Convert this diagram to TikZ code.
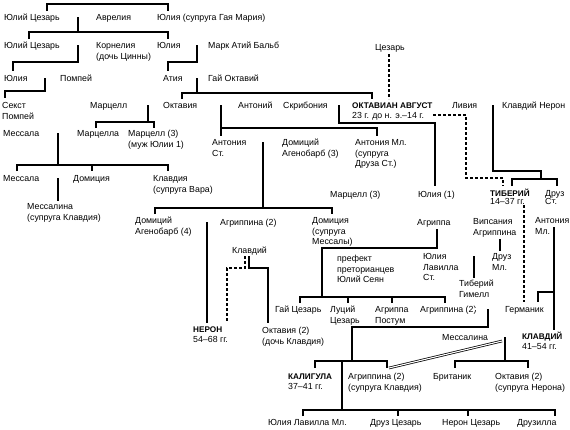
\documentclass[tikz,border=0pt]{standalone}
\usepackage{fontspec}
\setmainfont{Liberation Sans}
\newcommand\fsn{\fontsize{8.8}{10.8}\selectfont}
\newcommand\fst{\fontsize{8.8}{8.2}\selectfont}
\newcommand\fsb{\fontsize{8.8}{10.2}\selectfont}
\newcommand\bn{\fontsize{8.2}{10}\selectfont\bfseries}
\newcommand\lns[1]{\vtop{\halign{##\hfil\cr #1\crcr}}}
\tikzset{
  lbl/.style={anchor=base west, inner sep=0pt, font=\fsn, yshift=-3.2pt},
  bl/.style={lbl, font=\fsb},
  tl/.style={lbl, font=\fst},
  ln/.style={line width=1.1pt},
  dl/.style={line width=1.1pt, dash pattern=on 3pt off 2pt},
  mar/.style={double, double distance=1.1pt, line width=0.75pt},
}
\begin{document}
\begin{tikzpicture}[x=1pt,y=-1pt]
\useasboundingbox (0,0) rectangle (570,429);
% ---------- labels ----------
\node[lbl] (jc1) at (4,17) {Юлий Цезарь};
\node[lbl] (avr) at (96,17) {Аврелия};
\node[lbl] (jul1) at (157,17) {Юлия (супруга Гая Мария)};
\node[lbl] (jc2) at (4,45) {Юлий Цезарь};
\node[lbl] (korn) at (96,45) {\lns{Корнелия\cr (дочь Цинны)}};
\node[lbl] (jul2) at (157,45) {Юлия};
\node[lbl] (mab) at (208,45) {Марк Атий Бальб};
\node[lbl] (jul3) at (4,78) {Юлия};
\node[lbl] (pomp) at (60,78) {Помпей};
\node[lbl] (atia) at (163,78) {Атия};
\node[lbl] (gaioct) at (208,78) {Гай Октавий};
\node[lbl] (caesar) at (375,47) {Цезарь};
\node[lbl] (sext) at (2,105) {\lns{Секст\cr Помпей}};
\node[lbl] (marc1) at (90,105) {Марцелл};
\node[lbl] (oct) at (163,105) {Октавия};
\node[lbl] (ant) at (238,105) {Антоний};
\node[lbl] (scrib) at (283,105) {Скрибония};
\node[bl] (aug) at (352,105) {\lns{\bn ОКТАВИАН АВГУСТ\cr 23 г. до н. э.–14 г.}};
\node[lbl] (livia) at (452,105) {Ливия};
\node[lbl] (klner) at (502,105) {Клавдий Нерон};
\node[lbl] (mess1) at (3,133) {Мессала};
\node[lbl] (marcella) at (77,133) {Марцелла};
\node[lbl] (marc3a) at (128,133) {\lns{Марцелл (3)\cr (муж Юлии 1)}};
\node[lbl] (antst) at (212,142) {\lns{Антония\cr Ст.}};
\node[lbl] (dom3) at (282,142) {\lns{Домиций\cr Агенобарб (3)}};
\node[lbl] (antml) at (355,142) {\lns{Антония Мл.\cr (супруга\cr Друза Ст.)}};
\node[lbl] (mess2) at (3,178) {Мессала};
\node[lbl] (domic) at (73,178) {Домиция};
\node[lbl] (klavdia) at (153,178) {\lns{Клавдия\cr (супруга Вара)}};
\node[lbl] (messal1) at (27,206) {\lns{Мессалина\cr (супруга Клавдия)}};
\node[lbl] (marc3b) at (330,194) {Марцелл (3)};
\node[lbl] (jul4) at (418,194) {Юлия (1)};
\node[tl] (tib) at (490,193) {\lns{\bn ТИБЕРИЙ\cr 14–37 гг.}};
\node[tl] (druzst) at (545,193) {\lns{Друз\cr Ст.}};
\node[lbl] (agrippa) at (417,222) {Агриппа};
\node[lbl] (vips) at (473,221) {\lns{Випсания\cr Агриппина}};
\node[lbl] (antml2) at (535,220) {\lns{Антония\cr Мл.}};
\node[lbl] (dom4) at (135,220) {\lns{Домиций\cr Агенобарб (4)}};
\node[lbl] (agr2a) at (220,222) {Агриппина (2)};
\node[lbl] (domic2) at (312,220) {\lns{Домиция\cr (супруга\cr Мессалы)}};
\node[lbl] (klav1) at (232,250) {Клавдий};
\node[lbl] (sejan) at (337,258) {\lns{префект\cr преторианцев\cr Юлий Сеян}};
\node[lbl] (jlav) at (423,256) {\lns{Юлия\cr Лавилла\cr Ст.}};
\node[lbl] (druzml) at (492,256) {\lns{Друз\cr Мл.}};
\node[lbl] (gemell) at (459,283) {\lns{Тиберий\cr Гимелл}};
\node[lbl] (gai) at (275,309) {Гай Цезарь};
\node[lbl] (luc) at (330,309) {\lns{Луций\cr Цезарь}};
\node[lbl] (agrpost) at (375,309) {\lns{Агриппа\cr Постум}};
\node[lbl] (agr2b) at (420,309) {Агриппина (2)};
\node[lbl] (germ) at (505,309) {Германик};
\node[bl] (nero) at (193,329) {\lns{\bn НЕРОН\cr 54–68 гг.}};
\node[lbl] (oct2a) at (262,330) {\lns{Октавия (2)\cr (дочь Клавдия)}};
\node[lbl] (messal2) at (442,337) {Мессалина};
\node[bl] (claud) at (522,336) {\lns{\bn КЛАВДИЙ\cr 41–54 гг.}};
\node[bl] (calig) at (288,376) {\lns{\bn КАЛИГУЛА\cr 37–41 гг.}};
\node[lbl] (agr2c) at (348,376) {\lns{Агриппина (2)\cr (супруга Клавдия)}};
\node[lbl] (brit) at (433,376) {Британик};
\node[lbl] (oct2b) at (495,376) {\lns{Октавия (2)\cr (супруга Нерона)}};
\node[lbl] (jlavml) at (268,422) {Юлия Лавилла Мл.};
\node[lbl] (druzc) at (370,422) {Друз Цезарь};
\node[lbl] (neronc) at (442,422) {Нерон Цезарь};
\node[lbl] (druzilla) at (517,422) {Друзилла};
% ---------- marriages ----------
\draw[mar] (63,17) -- (95,17);
\draw[mar] (63,45) -- (95,45);
\draw[mar] (180,45) -- (207,45);
\draw[mar] (27,78) -- (58,78);
\draw[mar] (182,78) -- (207,78);
\draw[mar] (133,105) -- (162,105);
\draw[mar] (205,105) -- (235,105);
\draw[mar] (330,105) -- (348,105);
\draw[mar] (435,105) -- (451,105);
\draw[mar] (484,105) -- (501,105);
\draw[mar] (43,133) -- (73,133);
\draw[mar] (247,142) -- (275,142);
\draw[mar] (43,178) -- (72,178);
\draw[mar] (380,194) -- (405,194);
\draw[mar] (458,194) -- (489,194);
\draw[mar] (437,201) -- (437,212);
\draw[mar] (502,204) -- (502,215);
\draw[mar] (553,203) -- (553,214);
\draw[mar] (190,222) -- (219,222);
\draw[mar] (247,229) -- (247,243);
\draw[mar] (388,257) -- (418,257);
\draw[mar] (458,256) -- (490,256);
\draw[mar] (475,309) -- (503,309);
\draw[mar] (232,330) -- (260,330);
\draw[mar] (487,337) -- (519,337);
\draw[mar] (389,368) -- (502,341);
% ---------- descent lines ----------
\draw[ln] (47,11) -- (47,4) -- (168,4) -- (168,11);
\draw[ln] (78,17) -- (78,32);
\draw[ln] (29,39) -- (29,32) -- (168,32) -- (168,39);
\draw[ln] (78,45) -- (78,62) -- (13,62) -- (13,71);
\draw[ln] (197,45) -- (197,62) -- (168,62) -- (168,71);
\draw[ln] (45,78) -- (45,91) -- (5,91) -- (5,98);
\draw[ln] (197,78) -- (197,93);
\draw[ln] (182,99) -- (182,93) -- (372,93) -- (372,99);
\draw[dl] (389,54) -- (389,99);
\draw[ln] (148,105) -- (148,122);
\draw[ln] (96,128) -- (96,122) -- (154,122) -- (154,128);
\draw[ln] (221,105) -- (221,136);
\draw[ln] (221,128) -- (377,128) -- (377,136);
\draw[ln] (339,105) -- (339,123) -- (435,123) -- (435,186);
\draw[ln] (493,105) -- (493,171) -- (541,171) -- (541,179);
\draw[ln] (512,186) -- (512,179) -- (557,179) -- (557,186);
\draw[dl] (433,115) -- (466,115) -- (466,178) -- (503,178) -- (503,186);
\draw[ln] (58,133) -- (58,165);
\draw[ln] (17,171) -- (17,165) -- (168,165) -- (168,171);
\draw[ln] (92,165) -- (92,171);
\draw[ln] (263,142) -- (263,208);
\draw[ln] (155,214) -- (155,208) -- (332,208) -- (332,214);
\draw[ln] (58,178) -- (58,201);
\draw[ln] (437,229) -- (437,248) -- (322,248) -- (322,297);
\draw[ln] (500,239) -- (500,251);
\draw[ln] (207,222) -- (207,323);
\draw[dl] (245,256) -- (245,268) -- (227,268) -- (227,322);
\draw[ln] (249,256) -- (249,268) -- (268,268) -- (268,323);
\draw[ln] (474,256) -- (474,278);
\draw[ln] (300,303) -- (300,297) -- (445,297) -- (445,303);
\draw[ln] (348,297) -- (348,303);
\draw[ln] (392,297) -- (392,303);
\draw[ln] (488,309) -- (488,327) -- (352,327) -- (352,361);
\draw[ln] (315,368) -- (315,361) -- (387,361) -- (387,368);
\draw[ln] (342,361) -- (342,410);
\draw[ln] (303,416) -- (303,410) -- (555,410) -- (555,416);
\draw[ln] (398,410) -- (398,416);
\draw[ln] (468,410) -- (468,416);
\draw[dl] (524,205) -- (524,302);
\draw[ln] (554,227) -- (554,330);
\draw[ln] (554,292) -- (538,292) -- (538,302);
\draw[ln] (505,337) -- (505,361);
\draw[ln] (455,368) -- (455,361) -- (528,361) -- (528,368);
\end{tikzpicture}
\end{document}
